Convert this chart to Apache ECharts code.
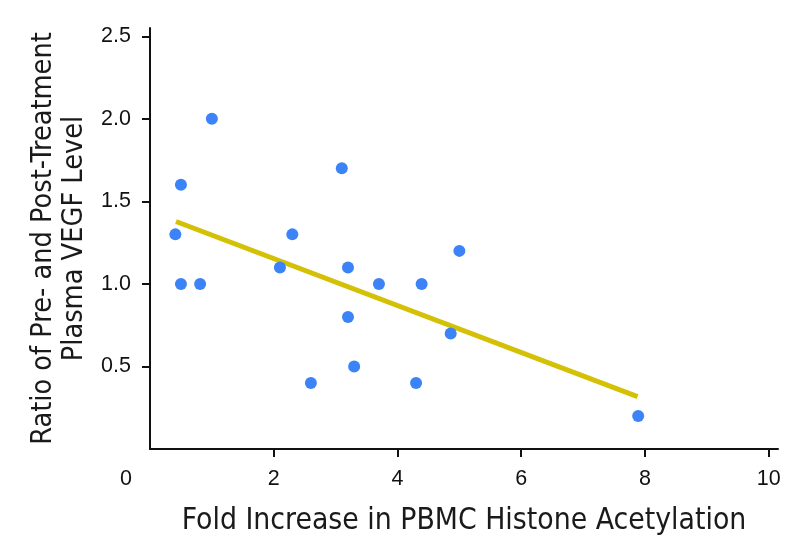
<!DOCTYPE html>
<html>
<head>
<meta charset="utf-8">
<script src="https://cdn.jsdelivr.net/npm/echarts@6/dist/echarts.min.js"></script>
<style>
html,body{margin:0;padding:0;background:#fff;}
#c{width:802px;height:555px;}
</style>
</head>
<body>
<div id="c"></div>
<script>
// Data
var foldIncrease = [0.41, 0.50, 0.50, 0.81, 1.00, 2.10, 2.30, 2.60, 3.10, 3.20, 3.20, 3.30, 3.70, 4.30, 4.39, 4.86, 5.00, 7.89];
var vegfRatio    = [1.30, 1.60, 1.00, 1.00, 2.00, 1.10, 1.30, 0.40, 1.70, 1.10, 0.80, 0.50, 1.00, 0.40, 1.00, 0.70, 1.20, 0.20];
var trendX = [0.42, 7.88];
var trendY = [1.378, 0.317];
var xTicks = [0, 2, 4, 6, 8, 10];
var yTicks = [0.5, 1.0, 1.5, 2.0, 2.5];

var points = foldIncrease.map(function (x, i) { return [x, vegfRatio[i]]; });
var trend = trendX.map(function (x, i) { return [x, trendY[i]]; });

var chart = echarts.init(document.getElementById('c'), null, {renderer: 'canvas'});
var titleFont = 'Liberation Sans Narrow, DejaVu Sans Condensed, sans-serif';
var labelFont = 'Liberation Sans, Arial, sans-serif';

chart.setOption({
  animation: false,
  backgroundColor: '#ffffff',
  grid: {left: 150, right: 24, top: 28, bottom: 106, containLabel: false, outerBoundsMode: 'none'},
  xAxis: {
    type: 'value',
    min: 0,
    max: 10.15,
    name: 'Fold Increase in PBMC Histone Acetylation',
    nameLocation: 'middle',
    nameGap: 57,
    nameTextStyle: {fontFamily: titleFont, fontSize: 29.8, color: '#1a1a1a'},
    axisLine: {show: true, lineStyle: {color: '#111', width: 2}},
    axisTick: {show: true, length: 8, lineStyle: {color: '#111', width: 2}, customValues: xTicks.slice(1)},
    axisLabel: {
      customValues: xTicks,
      margin: 19,
      fontFamily: labelFont,
      fontSize: 21.5,
      color: '#111',
      formatter: function (v) { return v === 0 ? '{z|0}' : String(v); },
      rich: {z: {fontFamily: labelFont, fontSize: 21.5, color: '#111', padding: [0, 48, 0, 0]}}
    },
    splitLine: {show: false}
  },
  yAxis: {
    type: 'value',
    min: 0,
    max: 2.55,
    name: 'Ratio of Pre- and Post-Treatment\nPlasma VEGF Level',
    nameLocation: 'middle',
    nameGap: 58,
    nameTextStyle: {fontFamily: titleFont, fontSize: 28.6, lineHeight: 31, color: '#1a1a1a', align: 'center'},
    axisLine: {show: true, lineStyle: {color: '#111', width: 2}},
    axisTick: {show: true, length: 8, lineStyle: {color: '#111', width: 2}, customValues: yTicks},
    axisLabel: {
      customValues: yTicks,
      margin: 19,
      fontFamily: labelFont,
      fontSize: 21.5,
      color: '#111',
      formatter: function (v) { return v.toFixed(1); }
    },
    splitLine: {show: false}
  },
  series: [
    {
      type: 'line',
      data: trend,
      symbol: 'none',
      lineStyle: {color: '#d4c106', width: 5},
      z: 2
    },
    {
      type: 'scatter',
      data: points,
      symbol: 'circle',
      symbolSize: 12,
      itemStyle: {color: '#3b83f6', opacity: 1},
      z: 3
    }
  ]
});
</script>
</body>
</html>
